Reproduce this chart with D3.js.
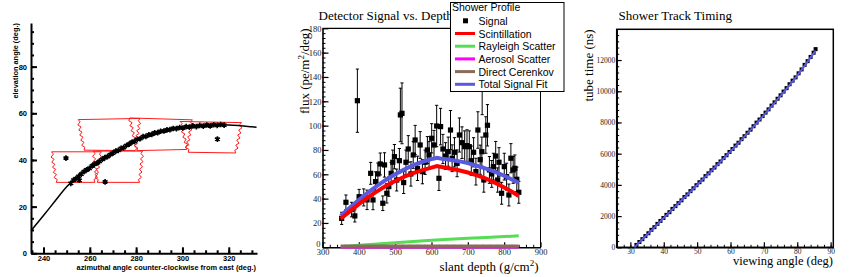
<!DOCTYPE html>
<html>
<head>
<meta charset="utf-8">
<script src="https://cdn.jsdelivr.net/npm/d3@7"></script>
<style>
  body { margin: 0; background: #fff; }
  svg { display: block; }
</style>
</head>
<body>
<div id="chart"></div>
<script>
// ---------- left panel: shower track in azimuth / elevation ----------
const azTicks = [240, 260, 280, 300, 320];
const elTicks = [0, 20, 40, 60, 80];
const trackFit = [
  [234.6, 9.7], [240, 16.2], [245, 22.4], [250, 28.5], [255, 33.2], [260, 36.8],
  [265, 39.8], [270, 42.8], [275, 45.6], [280, 48.5], [285, 50.5], [290, 52],
  [295, 53], [300, 53.8], [305, 54.4], [310, 54.8], [315, 55], [320, 55],
  [325, 54.7], [330, 54.2], [332, 54]
];
const trackPts = [
  [251.8, 30.0], [253.0, 31.4], [254.0, 32.0], [255.2, 33.0], [255.5, 31.3], [256.3, 33.9],
  [257.5, 35.0], [258.6, 35.8], [259.8, 36.4], [261.0, 37.5], [262.0, 38.2], [263.1, 38.7],
  [264.2, 39.4], [265.4, 40.3], [266.5, 41.0], [267.6, 41.4], [268.8, 42.3], [270.0, 42.9],
  [271.2, 43.8], [272.3, 44.1], [273.5, 45.0], [274.6, 45.3], [275.8, 46.2], [277.0, 46.8],
  [278.2, 47.6], [279.3, 48.0], [280.5, 48.8], [281.7, 49.1], [283.0, 50.0], [284.2, 50.1],
  [285.5, 50.8], [286.8, 51.0], [288.0, 51.6], [289.3, 51.7], [290.6, 52.3], [292.0, 52.4],
  [293.3, 52.9], [294.6, 53.0], [296.0, 53.5], [297.4, 53.4], [298.8, 53.9], [300.2, 53.7],
  [301.6, 54.3], [303.0, 54.1], [304.5, 54.6], [306.0, 54.3], [307.5, 54.8], [309.0, 54.5],
  [310.5, 55.0], [312.0, 54.6], [313.5, 55.1], [315.0, 54.8], [316.5, 55.2], [318.0, 54.9],
  [249.7, 40.8], [266.6, 30.6], [315.1, 48.9]
];
// mirror fields of view: top-left, top-right, bottom-right, bottom-left (az, elev)
const mirrorBoxes = [
  [[243.5, 43.5], [265.0, 43.5], [262.2, 30.4], [245.5, 30.4]],
  [[261.5, 43.8], [282.8, 43.8], [281.5, 30.4], [263.2, 30.4]],
  [[255.0, 57.3], [281.7, 57.8], [279.5, 44.0], [257.5, 44.2]],
  [[277.2, 58.0], [304.3, 57.2], [301.8, 44.5], [280.3, 44.0]],
  [[299.0, 56.5], [325.5, 56.0], [323.0, 43.0], [302.5, 43.3]]
];

// ---------- middle panel: signal vs depth ----------
const depthTicks = [300, 400, 500, 600, 700, 800, 900];
const fluxTicks = [0, 20, 40, 60, 80, 100, 120, 140, 160, 180];
// [slant depth, flux, error]
const signalPts = [
  [352.7, 23.8, 5], [364.5, 37.0, 6], [380.0, 31.0, 6], [389.0, 25.8, 5], [396.0, 120.5, 26],
  [400.8, 41.6, 6], [413.5, 41.0, 7], [422.6, 39.0, 8], [432.6, 60.8, 9], [439.0, 38.9, 8],
  [446.0, 54.0, 8], [452.5, 60.3, 9], [459.0, 68.5, 9], [466.0, 36.2, 6], [470.7, 67.7, 10],
  [477.0, 44.4, 8], [482.5, 49.9, 8], [488.9, 60.8, 9], [493.4, 69.9, 10], [498.0, 74.5, 10],
  [504.3, 55.3, 9], [511.6, 71.2, 10], [514.3, 108.8, 22], [518.8, 110.1, 25], [523.4, 53.2, 9],
  [529.7, 69.9, 10], [536.0, 80.8, 11], [543.3, 60.3, 10], [549.7, 75.9, 11], [555.0, 88.2, 12],
  [561.5, 64.9, 10], [568.8, 84.1, 11], [575.0, 62.2, 10], [582.4, 69.9, 10], [588.7, 80.0, 11],
  [593.3, 75.9, 11], [600.5, 89.6, 12], [606.9, 84.1, 12], [614.2, 99.7, 17], [620.5, 56.7, 10],
  [625.0, 99.2, 15], [631.4, 80.8, 12], [638.7, 75.0, 11], [646.0, 78.6, 12], [652.3, 96.4, 16],
  [656.8, 73.2, 11], [663.2, 78.1, 12], [670.5, 69.0, 11], [676.8, 92.3, 14], [684.0, 86.0, 13],
  [691.3, 82.7, 13], [697.7, 83.6, 13], [704.0, 82.7, 13], [709.5, 71.2, 12], [715.9, 78.1, 12],
  [722.2, 62.2, 11], [727.7, 96.4, 15], [734.0, 72.0, 12], [738.6, 78.6, 12], [739.5, 130.0, 21],
  [744.0, 55.3, 10], [749.5, 92.3, 15], [754.0, 100.3, 17], [759.4, 63.6, 11], [765.8, 60.3, 11],
  [770.3, 66.3, 11], [776.7, 75.0, 12], [782.1, 55.3, 10], [785.8, 69.9, 12], [793.0, 44.4, 9],
  [800.3, 66.3, 11], [806.7, 58.1, 11], [813.0, 43.0, 9], [818.5, 73.2, 12], [824.8, 63.6, 11],
  [829.4, 64.9, 11], [834.8, 55.9, 10], [840.3, 45.2, 9]
];
const scintFit = [
  [350, 23.5], [375, 29.5], [400, 35.5], [425, 41], [450, 46], [475, 50.5], [500, 54.5],
  [525, 58], [550, 61], [575, 63.5], [600, 65.5], [615, 66.8], [625, 66.2], [650, 64.8],
  [675, 63.3], [700, 61.5], [725, 59.2], [750, 56.5], [775, 53], [800, 49.2], [825, 45], [840, 42.2]
];
const totalFit = [
  [350, 26], [375, 32.5], [400, 39], [425, 45], [450, 50.5], [475, 55.5], [500, 60],
  [525, 64], [550, 67.5], [575, 70.3], [600, 72.5], [615, 73.5], [625, 73], [650, 72],
  [675, 70.8], [700, 69.2], [725, 67], [750, 64.7], [775, 62], [800, 58.8], [825, 55.2], [840, 53]
];
const rayleighFit = [
  [350, 0.5], [400, 1.6], [450, 2.7], [500, 3.8], [550, 4.8], [600, 5.7], [650, 6.6],
  [700, 7.4], [750, 8.1], [800, 8.8], [840, 9.4]
];
const aerosolFit = [[350, 0], [600, 0], [840, 0]];
const cerenkovFit = [[350, 1.1], [600, 1.1], [840, 1.1]];
const legendItems = [
  { label: "Signal", kind: "marker", color: "#000" },
  { label: "Scintillation", kind: "line", color: "#ff0000" },
  { label: "Rayleigh Scatter", kind: "line", color: "#55dd55" },
  { label: "Aerosol Scatter", kind: "line", color: "#ff00ff" },
  { label: "Direct Cerenkov", kind: "line", color: "#8c6a5a" },
  { label: "Total Signal Fit", kind: "line", color: "#5a5ae0" }
];

// ---------- right panel: timing ----------
const angleTicks = [30, 40, 50, 60, 70, 80, 90];
const timeTicks = [0, 2000, 4000, 6000, 8000, 10000, 12000];
const timingPts = [
  [31.8, 150], [32.7, 340], [33.6, 520], [34.5, 720], [35.4, 900], [36.3, 1120], [37.2, 1290],
  [38.1, 1500], [39.0, 1690], [39.9, 1880], [40.8, 2080], [41.7, 2250], [42.6, 2460], [43.5, 2640],
  [44.4, 2830], [45.3, 3010], [46.2, 3220], [47.1, 3390], [48.0, 3600], [48.9, 3780], [49.8, 3980],
  [50.7, 4170], [51.6, 4340], [52.5, 4560], [53.4, 4740], [54.3, 4940], [55.2, 5110], [56.1, 5330],
  [57.0, 5500], [57.9, 5720], [58.8, 5900], [59.7, 6110], [60.6, 6300], [61.5, 6520], [62.4, 6700],
  [63.3, 6930], [64.2, 7120], [65.1, 7340], [66.0, 7540], [66.9, 7760], [67.8, 7990], [68.7, 8190],
  [69.6, 8410], [70.5, 8630], [71.4, 8840], [72.3, 9080], [73.2, 9290], [74.1, 9520], [75.0, 9740],
  [75.9, 9980], [76.8, 10200], [77.7, 10450], [78.6, 10680], [79.5, 10890], [80.4, 11150],
  [81.3, 11400], [82.2, 11690], [83.1, 11930], [84.0, 12200], [84.9, 12470], [85.5, 12700]
];
const timingFit = [
  [31.2, 0], [35, 800], [40, 1880], [45, 2930], [50, 3990], [55, 5050], [60, 6140],
  [65, 7280], [70, 8470], [75, 9700], [80, 11000], [85.5, 12600]
];

const W = 862, H = 277;
const svg = d3.select("#chart").append("svg")
  .attr("width", W)
  .attr("height", H);
const intFmt = d3.format("d");

function minorRange(lo, hi, step) {
  return d3.range(lo, hi + step / 2, step);
}

function zigzag(a, b, amp, step) {
  const dx = b[0] - a[0], dy = b[1] - a[1];
  const len = Math.hypot(dx, dy);
  const n = Math.max(2, Math.round(len / step));
  const nx = -dy / len, ny = dx / len;
  const pts = [a];
  for (let i = 1; i < n; i++) {
    const t = i / n, s = (i % 2 ? 1 : -1) * amp;
    pts.push([a[0] + dx * t + nx * s, a[1] + dy * t + ny * s]);
  }
  pts.push(b);
  return pts;
}

// ================= LEFT =================
{
  const x = d3.scaleLinear().domain([234.6, 332.2]).range([31, 257]);
  const y = d3.scaleLinear().domain([0, 98.7]).range([253.3, 23]);
  const g = svg.append("g");
  const sans = "Liberation Sans, Arial, sans-serif";

  // minor ticks
  g.append("g")
    .attr("transform", "translate(0,253.3)")
    .call(d3.axisBottom(x).tickValues(minorRange(235, 330, 5)).tickFormat("").tickSizeInner(-3).tickSizeOuter(0))
    .call(a => a.select(".domain").remove())
    .selectAll("line").attr("stroke-width", 2);
  g.append("g")
    .attr("transform", "translate(31,0)")
    .call(d3.axisLeft(y).tickValues(minorRange(5, 95, 5)).tickFormat("").tickSizeInner(-3).tickSizeOuter(0))
    .call(a => a.select(".domain").remove())
    .selectAll("line").attr("stroke-width", 2);

  const xa = g.append("g")
    .attr("transform", "translate(0,253.3)")
    .call(d3.axisBottom(x).tickValues(azTicks).tickFormat(intFmt).tickSizeInner(-6).tickSizeOuter(0).tickPadding(2));
  const ya = g.append("g")
    .attr("transform", "translate(31,0)")
    .call(d3.axisLeft(y).tickValues(elTicks).tickFormat(intFmt).tickSizeInner(-6).tickSizeOuter(0).tickPadding(4));
  [xa, ya].forEach(a => {
    a.select(".domain").attr("stroke-width", 2);
    a.selectAll("line").attr("stroke-width", 2);
    a.selectAll("text").attr("font-family", sans).attr("font-size", "7.5px").attr("font-weight", "bold").attr("fill", "#000");
  });

  g.append("text")
    .attr("x", 256).attr("y", 269.5)
    .attr("text-anchor", "end")
    .attr("font-family", sans).attr("font-size", "7.4px").attr("font-weight", "bold")
    .text("azimuthal angle counter-clockwise from east (deg.)");
  g.append("text")
    .attr("transform", "translate(17.5,23) rotate(-90)")
    .attr("text-anchor", "end")
    .attr("font-family", sans).attr("font-size", "7.4px").attr("font-weight", "bold")
    .text("elevation angle (deg.)");

  // mirror outlines
  mirrorBoxes.forEach(box => {
    const p = box.map(c => [x(c[0]), y(c[1])]);
    g.append("path")
      .attr("d", d3.line()([p[0], ...zigzag(p[1], p[2], 1.4, 2.6), ...zigzag(p[3], p[0], 1.4, 2.6)]) + "Z")
      .attr("fill", "none")
      .attr("stroke", "#ff1a1a")
      .attr("stroke-width", 1);
  });

  g.append("path")
    .datum(trackFit)
    .attr("fill", "none")
    .attr("stroke", "#000")
    .attr("stroke-width", 1.5)
    .attr("d", d3.line().curve(d3.curveMonotoneX).x(d => x(d[0])).y(d => y(d[1])));

  g.selectAll(".trk")
    .data(trackPts)
    .join("path")
    .attr("transform", d => `translate(${x(d[0])},${y(d[1])})`)
    .attr("d", d3.symbol(d3.symbolAsterisk, 22))
    .attr("stroke", "#000")
    .attr("stroke-width", 1.6)
    .attr("fill", "none");
  g.selectAll(".trk2")
    .data(trackPts)
    .join("rect")
    .attr("x", d => x(d[0]) - 1.5)
    .attr("y", d => y(d[1]) - 1.5)
    .attr("width", 3).attr("height", 3)
    .attr("fill", "#000");
}

// ================= MIDDLE =================
{
  const x = d3.scaleLinear().domain([300, 900]).range([322.5, 540.5]);
  const y = d3.scaleLinear().domain([0, 180]).range([247.3, 28.3]);
  const g = svg.append("g");
  const serif = "Liberation Serif, Times New Roman, serif";
  const sans = "Liberation Sans, Arial, sans-serif";

  g.append("text")
    .attr("x", 318.5).attr("y", 19.5)
    .attr("font-family", serif).attr("font-size", "13px")
    .text("Detector Signal vs. Depth");

  // frame top / right
  g.append("line").attr("x1", x(300)).attr("x2", x(900)).attr("y1", y(180)).attr("y2", y(180))
    .attr("stroke", "#000").attr("stroke-width", 1.3);
  g.append("line").attr("x1", x(900)).attr("x2", x(900)).attr("y1", y(180)).attr("y2", y(0))
    .attr("stroke", "#000").attr("stroke-width", 1);

  g.append("g")
    .attr("transform", `translate(0,${y(0)})`)
    .call(d3.axisBottom(x).tickValues(minorRange(320, 880, 20)).tickFormat("").tickSizeInner(-2.5).tickSizeOuter(0))
    .call(a => a.select(".domain").remove());
  g.append("g")
    .attr("transform", `translate(${x(300)},0)`)
    .call(d3.axisLeft(y).tickValues(minorRange(4, 176, 4)).tickFormat("").tickSizeInner(-3).tickSizeOuter(0))
    .call(a => a.select(".domain").remove());
  const xa = g.append("g")
    .attr("transform", `translate(0,${y(0)})`)
    .call(d3.axisBottom(x).tickValues(depthTicks).tickFormat(intFmt).tickSizeInner(-5).tickSizeOuter(0).tickPadding(2));
  const ya = g.append("g")
    .attr("transform", `translate(${x(300)},0)`)
    .call(d3.axisLeft(y).tickValues(fluxTicks).tickFormat(intFmt).tickSizeInner(-6).tickSizeOuter(0).tickPadding(1));
  [xa, ya].forEach(a => {
    a.select(".domain").attr("stroke-width", 1.6);
    a.selectAll("line").attr("stroke-width", 1.2);
    a.selectAll("text").attr("font-family", serif).attr("font-size", "8.5px").attr("fill", "#222");
  });
  // the zero label sits just above and left of the corner, as in the reference
  ya.selectAll("text").filter(d => d === 0).attr("dy", "-0.1em").attr("x", -2);

  const fx = g.append("text")
    .attr("x", 538.5).attr("y", 271)
    .attr("text-anchor", "end")
    .attr("font-family", serif).attr("font-size", "13px");
  fx.append("tspan").text("slant depth (g/cm");
  fx.append("tspan").attr("dy", -5).attr("font-size", "9px").text("2");
  fx.append("tspan").attr("dy", 5).text(")");
  const fy = g.append("text")
    .attr("transform", "translate(308.5,28.3) rotate(-90)")
    .attr("text-anchor", "end")
    .attr("font-family", serif).attr("font-size", "13px");
  fy.append("tspan").text("flux (pe/m");
  fy.append("tspan").attr("dy", -5).attr("font-size", "9px").text("2");
  fy.append("tspan").attr("dy", 5).text("/deg)");

  // signal points with error bars
  const pts = g.append("g");
  signalPts.forEach(d => {
    const cx = x(d[0]);
    const top = y(Math.min(d[1] + d[2], 180)), bot = y(d[1] - d[2]);
    pts.append("line").attr("x1", cx).attr("x2", cx).attr("y1", top).attr("y2", bot)
      .attr("stroke", "#000").attr("stroke-width", 1);
    [d[1] + d[2], d[1] - d[2]].forEach(v => {
      pts.append("line").attr("x1", cx - 1.6).attr("x2", cx + 1.6).attr("y1", y(v)).attr("y2", y(v))
        .attr("stroke", "#000").attr("stroke-width", 1);
    });
    pts.append("rect")
      .attr("x", cx - 2.6).attr("y", y(d[1]) - 2.6)
      .attr("width", 5.2).attr("height", 5.2)
      .attr("fill", "#000");
  });

  const line = d3.line().x(d => x(d[0])).y(d => y(d[1]));
  const fits = [
    [rayleighFit, "#55dd55", 3],
    [aerosolFit, "#ff00ff", 2.6],
    [cerenkovFit, "#8c6a5a", 3],
    [totalFit, "#5a5ae0", 4],
    [scintFit, "#ff0000", 4]
  ];
  fits.forEach(([data, color, w]) => {
    g.append("path").datum(data)
      .attr("fill", "none").attr("stroke", color).attr("stroke-width", w)
      .attr("d", line);
  });

  // legend
  const lg = g.append("g").attr("transform", "translate(450.5,2.5)");
  lg.append("rect").attr("width", 113.5).attr("height", 89)
    .attr("fill", "#fff").attr("stroke", "#000").attr("stroke-width", 1);
  lg.append("text").attr("x", 1.5).attr("y", 8.5)
    .attr("font-family", sans).attr("font-size", "10.5px")
    .text("Shower Profile");
  legendItems.forEach((it, i) => {
    const ry = 18.3 + i * 12.7;
    if (it.kind === "marker") {
      lg.append("rect").attr("x", 12.5).attr("y", ry - 2.5).attr("width", 5).attr("height", 5).attr("fill", it.color);
    } else {
      lg.append("line").attr("x1", 4.5).attr("x2", 24.5).attr("y1", ry).attr("y2", ry)
        .attr("stroke", it.color).attr("stroke-width", 3);
    }
    lg.append("text").attr("x", 28).attr("y", ry + 4)
      .attr("font-family", sans).attr("font-size", "10.5px")
      .text(it.label);
  });
}

// ================= RIGHT =================
{
  const x = d3.scaleLinear().domain([25.9, 90.8]).range([616.7, 833.3]);
  const y = d3.scaleLinear().domain([0, 13970]).range([247.3, 29.3]);
  const g = svg.append("g");
  const serif = "Liberation Serif, Times New Roman, serif";

  g.append("text")
    .attr("x", 618.5).attr("y", 19.5)
    .attr("font-family", serif).attr("font-size", "13px")
    .text("Shower Track Timing");

  g.append("g")
    .attr("transform", `translate(0,${y(0)})`)
    .call(d3.axisBottom(x).tickValues(minorRange(26, 90, 2)).tickFormat("").tickSizeInner(-2.5).tickSizeOuter(0))
    .call(a => a.select(".domain").remove());
  g.append("g")
    .attr("transform", `translate(${x.range()[0]},0)`)
    .call(d3.axisLeft(y).tickValues(minorRange(400, 13600, 400)).tickFormat("").tickSizeInner(-2.5).tickSizeOuter(0))
    .call(a => a.select(".domain").remove());
  const xa = g.append("g")
    .attr("transform", `translate(0,${y(0)})`)
    .call(d3.axisBottom(x).tickValues(angleTicks).tickFormat(intFmt).tickSizeInner(-5).tickSizeOuter(0).tickPadding(1));
  const ya = g.append("g")
    .attr("transform", `translate(${x.range()[0]},0)`)
    .call(d3.axisLeft(y).tickValues(timeTicks).tickFormat(intFmt).tickSizeInner(-5).tickSizeOuter(0).tickPadding(1.5));
  [xa, ya].forEach(a => {
    a.select(".domain").attr("stroke-width", 1.5);
    a.selectAll("line").attr("stroke-width", 1.2);
    a.selectAll("text").attr("font-family", serif).attr("font-size", "7.5px").attr("fill", "#222");
  });
  g.append("rect")
    .attr("x", x.range()[0]).attr("y", y.range()[1])
    .attr("width", x.range()[1] - x.range()[0])
    .attr("height", y.range()[0] - y.range()[1])
    .attr("fill", "none").attr("stroke", "#000").attr("stroke-width", 1.5);

  g.append("text")
    .attr("x", 833).attr("y", 265)
    .attr("text-anchor", "end")
    .attr("font-family", serif).attr("font-size", "12.5px")
    .text("viewing angle (deg)");
  g.append("text")
    .attr("transform", "translate(592.5,29.3) rotate(-90)")
    .attr("text-anchor", "end")
    .attr("font-family", serif).attr("font-size", "13px")
    .text("tube time (ns)");

  g.selectAll(".tp")
    .data(timingPts)
    .join("rect")
    .attr("x", d => x(d[0]) - 2)
    .attr("y", d => y(d[1]) - 2)
    .attr("width", 4).attr("height", 4)
    .attr("fill", "#000");

  g.append("path")
    .datum(timingFit)
    .attr("fill", "none")
    .attr("stroke", "#5a5ae0")
    .attr("stroke-width", 2)
    .attr("d", d3.line().curve(d3.curveMonotoneX).x(d => x(d[0])).y(d => y(d[1])));
}
</script>
</body>
</html>
